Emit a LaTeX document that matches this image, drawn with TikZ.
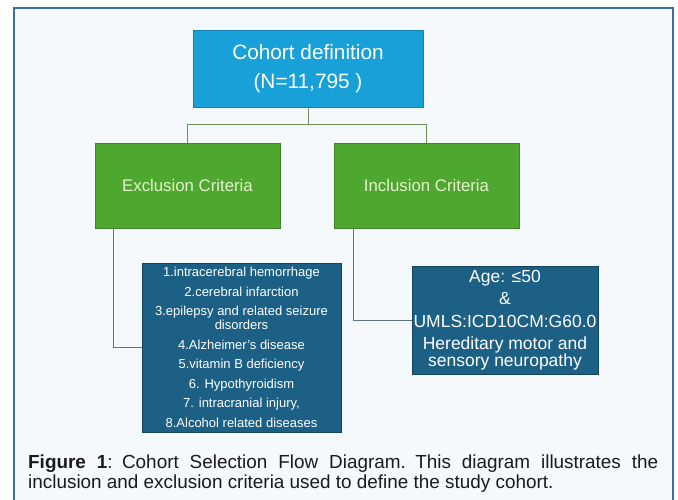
\documentclass[tikz,border=0pt]{standalone}
\usepackage{fontspec}
\setmainfont{Liberation Sans}
\usepackage{ragged2e}
\definecolor{bgc}{HTML}{F6F9FC}
\definecolor{framec}{HTML}{3C6FA8}
\definecolor{cohortc}{HTML}{18A0D8}
\definecolor{greenc}{HTML}{4EA72E}
\definecolor{darkc}{HTML}{1D6085}
\definecolor{topline}{HTML}{6E8F5E}
\definecolor{lowline}{HTML}{5F7385}
\definecolor{greentext}{HTML}{E4F2CC}
\definecolor{captc}{HTML}{1A1A1A}
\tikzset{
  boxbase/.style={rectangle, inner sep=0pt, align=center},
  cohortbox/.style={boxbase, fill=cohortc, draw=cohortc!80!black, line width=0.4pt, text=white, minimum width=230pt, minimum height=77pt, font=\fontsize{20.8}{29}\selectfont},
  greenbox/.style={boxbase, fill=greenc, draw=greenc!80!black, line width=0.4pt, text=greentext, minimum width=185pt, minimum height=85pt, font=\fontsize{16.8}{20}\selectfont},
  darkbox/.style={boxbase, fill=darkc, draw=darkc!70!black, line width=0.5pt, text=white},
  topconn/.style={draw=topline, line width=1pt},
  lowconn/.style={draw=lowline, line width=1pt},
}
\begin{document}
\begin{tikzpicture}[x=1pt,y=-1pt]
\useasboundingbox (0,0) rectangle (678,499);
\fill[white] (0,0) rectangle (678,499);
\filldraw[fill=bgc, draw=framec, line width=1.6pt] (14,8) rectangle (673,515);

\node[cohortbox] (cohort) at (308,68.5) {Cohort definition\\(N=11,795 )};
\node[greenbox] (excl) at (187.5,185.5) {Exclusion Criteria};
\node[greenbox] (incl) at (426.5,185.5) {Inclusion Criteria};

\node[darkbox, minimum width=199pt, minimum height=169pt, font=\fontsize{13}{14}\selectfont] (list) at (241.5,347.5)
 {1.intracerebral hemorrhage\\[5.5pt]
  2.cerebral infarction\\[5.5pt]
  3.epilepsy and related seizure\\disorders\\[5.5pt]
  4.Alzheimer's disease\\[5.5pt]
  5.vitamin B deficiency\\[5.5pt]
  6. Hypothyroidism\\[5.5pt]
  7. intracranial injury,\\[5.5pt]
  8.Alcohol related diseases};

\node[darkbox, minimum width=186pt, minimum height=108pt, font=\fontsize{17.5}{17}\selectfont] (detail) at (505,320)
 {Age: ≤50\\[5.5pt]
  \&\\[5.5pt]
  UMLS:ICD10CM:G60.0\\[5.5pt]
  Hereditary motor and\\sensory neuropathy};

\draw[topconn] (cohort.south) -- ++(0,17.5) -| (excl.north);
\draw[topconn] (cohort.south) -- ++(0,17.5) -| (incl.north);

\coordinate (ex) at ([xshift=-74.5pt]excl.south);
\coordinate (in) at ([xshift=-73.5pt]incl.south);
\draw[lowconn] (ex) |- (list.west);
\draw[lowconn] (in) |- (detail.west);

\node[anchor=north west, inner sep=0pt, text width=630pt, text=captc, font=\fontsize{18.9}{20.5}\selectfont] (cap) at (28,454.5)
 {\justifying\hyphenpenalty=10000\exhyphenpenalty=10000\textbf{Figure 1}: Cohort Selection Flow Diagram. This diagram illustrates the inclusion and exclusion criteria used to define the study cohort.\par};
\end{tikzpicture}
\end{document}
